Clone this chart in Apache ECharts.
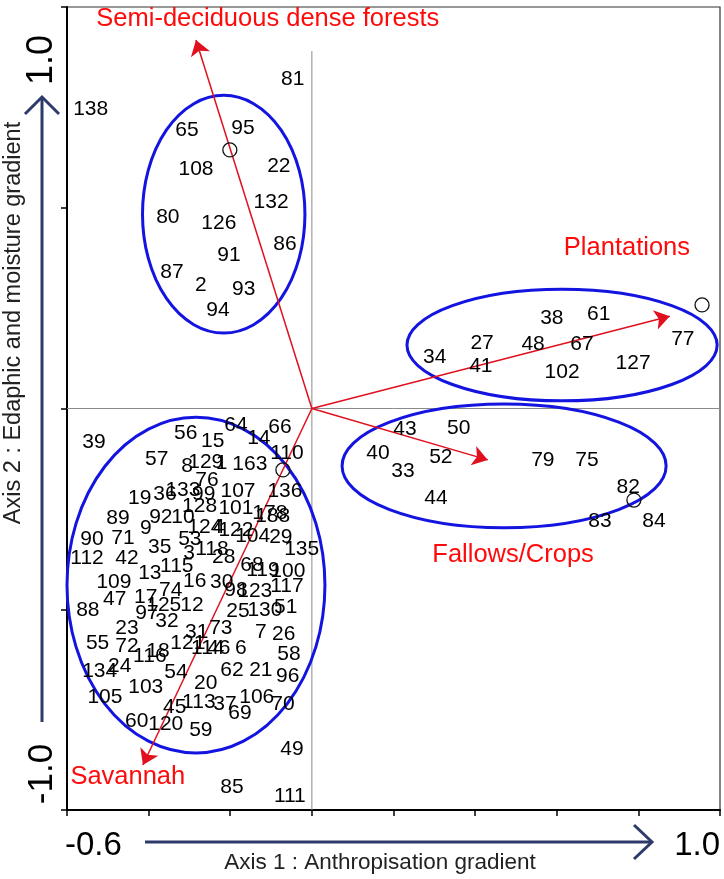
<!DOCTYPE html>
<html>
<head>
<meta charset="utf-8">
<script src="https://cdn.jsdelivr.net/npm/echarts@6/dist/echarts.min.js"></script>
<style>
html,body{margin:0;padding:0;background:#fff;}
#chart{width:724px;height:879px;}
</style>
</head>
<body>
<div id="chart"></div>
<script>
// ---- Data: site scores [site id, axis 1, axis 2] ----
const forestSites = [
  ['138',-0.542,0.746],['81',-0.047,0.821],['65',-0.306,0.694],['95',-0.169,0.698],
  ['108',-0.284,0.596],['22',-0.081,0.603],['132',-0.100,0.514],['80',-0.353,0.477],
  ['126',-0.228,0.462],['86',-0.066,0.410],['91',-0.203,0.382],['87',-0.343,0.340],
  ['2',-0.272,0.308],['93',-0.167,0.298],['94',-0.230,0.245]
];
const plantationSites = [
  ['38',0.588,0.225],['61',0.703,0.235],['27',0.417,0.163],['48',0.542,0.161],
  ['67',0.662,0.161],['77',0.909,0.173],['34',0.301,0.128],['41',0.414,0.106],
  ['102',0.613,0.091],['127',0.787,0.113]
];
const fallowSites = [
  ['43',0.228,-0.051],['50',0.360,-0.049],['40',0.162,-0.111],['52',0.316,-0.121],
  ['33',0.223,-0.156],['79',0.566,-0.128],['75',0.674,-0.128],['44',0.304,-0.223],
  ['82',0.775,-0.196],['83',0.706,-0.280],['84',0.838,-0.280]
];
const savannahSites = [
  ['39',-0.534,-0.083],['56',-0.309,-0.061],['64',-0.186,-0.041],['15',-0.243,-0.081],
  ['14',-0.130,-0.073],['66',-0.078,-0.046],['110',-0.061,-0.111],['57',-0.380,-0.126],
  ['8',-0.306,-0.143],['129',-0.260,-0.133],['1',-0.221,-0.136],['163',-0.152,-0.138],
  ['76',-0.257,-0.178],['107',-0.181,-0.205],['136',-0.066,-0.205],['19',-0.422,-0.223],
  ['36',-0.360,-0.213],['133',-0.316,-0.203],['99',-0.265,-0.213],['128',-0.275,-0.243],
  ['101',-0.186,-0.248],['178',-0.103,-0.260],['188',-0.096,-0.268],['89',-0.475,-0.273],
  ['9',-0.407,-0.298],['92',-0.370,-0.270],['10',-0.316,-0.270],['124',-0.262,-0.295],
  ['4',-0.228,-0.295],['122',-0.186,-0.304],['104',-0.145,-0.318],['29',-0.076,-0.320],
  ['135',-0.025,-0.350],['90',-0.539,-0.325],['71',-0.463,-0.323],['35',-0.373,-0.345],
  ['53',-0.299,-0.325],['112',-0.551,-0.372],['42',-0.453,-0.372],['3',-0.301,-0.361],
  ['118',-0.245,-0.350],['28',-0.216,-0.370],['13',-0.397,-0.410],['115',-0.331,-0.392],
  ['109',-0.485,-0.432],['16',-0.287,-0.430],['30',-0.221,-0.432],['68',-0.147,-0.390],
  ['119',-0.120,-0.402],['100',-0.059,-0.405],['117',-0.061,-0.442],['98',-0.186,-0.452],
  ['123',-0.140,-0.455],['47',-0.483,-0.475],['17',-0.407,-0.469],['74',-0.346,-0.452],
  ['125',-0.363,-0.489],['12',-0.294,-0.489],['88',-0.549,-0.502],['97',-0.404,-0.509],
  ['32',-0.355,-0.529],['23',-0.453,-0.547],['31',-0.282,-0.557],['73',-0.223,-0.547],
  ['25',-0.181,-0.504],['130',-0.115,-0.502],['51',-0.064,-0.494],['7',-0.125,-0.557],
  ['26',-0.069,-0.562],['55',-0.525,-0.584],['72',-0.453,-0.592],['116',-0.397,-0.616],
  ['18',-0.377,-0.604],['121',-0.304,-0.584],['114',-0.255,-0.597],['46',-0.228,-0.597],
  ['6',-0.174,-0.597],['58',-0.056,-0.611],['24',-0.471,-0.641],['134',-0.520,-0.654],
  ['54',-0.333,-0.656],['62',-0.196,-0.651],['21',-0.125,-0.651],['96',-0.059,-0.666],
  ['20',-0.260,-0.684],['103',-0.407,-0.694],['105',-0.507,-0.719],['113',-0.277,-0.731],
  ['37',-0.213,-0.736],['106',-0.135,-0.719],['70',-0.071,-0.736],['45',-0.336,-0.743],
  ['69',-0.176,-0.758],['60',-0.429,-0.778],['120',-0.358,-0.786],['59',-0.272,-0.801],
  ['49',-0.049,-0.848],['85',-0.196,-0.943],['111',-0.054,-0.965]
];
// Land-use variables (arrow tips)
const variableNames = ['Semi-deciduous dense forests','Plantations','Fallows/Crops','Savannah'];
const variableAxis1 = [-0.284, 0.877, 0.431, -0.414];
const variableAxis2 = [0.918, 0.230, -0.128, -0.888];
// Group centroids (open circles)
const centroidAxis1 = [-0.201, 0.956, -0.071, 0.789];
const centroidAxis2 = [0.644, 0.258, -0.153, -0.228];
// Group ellipses: centre axis1, centre axis2, half-width, half-height
const groupEllipses = [
  [-0.216, 0.484, 0.199, 0.296],
  [0.613, 0.158, 0.380, 0.139],
  [0.471, -0.143, 0.397, 0.154],
  [-0.284, -0.440, 0.316, 0.418]
];
// Variable label anchor positions
const variableLabelAxis1 = [-0.108, 0.772, 0.493, -0.451];
const variableLabelAxis2 = [0.969, 0.401, -0.364, -0.917];
const xTicks = {min: -0.6, max: 1.0, interval: 0.2};
const yTicks = {min: -1.0, max: 1.0, interval: 0.5};

const FONT = 'Liberation Sans, Arial, sans-serif';
const NAVY = '#2E3A6A';
const RED = '#E0101F';
const BLUE = '#1414E0';

const allSites = [].concat(forestSites, plantationSites, fallowSites, savannahSites);

const chart = echarts.init(document.getElementById('chart'), null, {renderer: 'canvas'});

const option = {
  animation: false,
  backgroundColor: '#fff',
  grid: {left: 67, right: 4, top: 7, bottom: 69, show: true, borderColor: '#333', borderWidth: 1.2, backgroundColor: 'transparent'},
  xAxis: {
    type: 'value', min: xTicks.min, max: xTicks.max, interval: xTicks.interval,
    axisLine: {show: true, onZero: false, lineStyle: {color: '#000', width: 2}},
    axisTick: {show: true, inside: false, length: 6, lineStyle: {color: '#000', width: 1.5}},
    axisLabel: {show: false}, splitLine: {show: false}
  },
  yAxis: {
    type: 'value', min: yTicks.min, max: yTicks.max, interval: yTicks.interval,
    axisLine: {show: true, onZero: false, lineStyle: {color: '#000', width: 2}},
    axisTick: {show: true, inside: false, length: 6, lineStyle: {color: '#000', width: 1.5}},
    axisLabel: {show: false}, splitLine: {show: false}
  },
  series: [
    {
      type: 'line', silent: true, symbol: 'none', z: 1,
      data: [[0, yTicks.min], [0, 0.89]],
      lineStyle: {color: '#8a8a8a', width: 1}
    },
    {
      type: 'line', silent: true, symbol: 'none', z: 1,
      data: [[xTicks.min, 0], [xTicks.max, 0]],
      lineStyle: {color: '#8a8a8a', width: 1}
    },
    {
      type: 'custom', silent: true, z: 2,
      data: groupEllipses,
      renderItem: function (params, api) {
        const c = api.coord([api.value(0), api.value(1)]);
        const s = api.size([api.value(2), api.value(3)]);
        const rx = s[0], ry = s[1];
        const d = 'M ' + (c[0] - rx) + ' ' + c[1] +
          ' A ' + rx + ' ' + ry + ' 0 1 0 ' + (c[0] + rx) + ' ' + c[1] +
          ' A ' + rx + ' ' + ry + ' 0 1 0 ' + (c[0] - rx) + ' ' + c[1] + ' Z';
        return {type: 'path', shape: {pathData: d}, style: {fill: 'none', stroke: BLUE, lineWidth: 3}};
      }
    },
    {
      type: 'lines', coordinateSystem: 'cartesian2d', silent: true, z: 3,
      symbol: ['none', 'arrow'], symbolSize: [11, 15],
      lineStyle: {color: RED, width: 1.5, opacity: 1},
      data: variableNames.map(function (n, i) {
        return {name: n, coords: [[0, 0], [variableAxis1[i], variableAxis2[i]]]};
      })
    },
    {
      type: 'scatter', silent: true, z: 4, symbolSize: 0,
      itemStyle: {opacity: 1},
      data: allSites.map(function (s) { return {name: s[0], value: [s[1], s[2]]}; }),
      label: {show: true, position: 'inside', formatter: '{b}', color: '#000', opacity: 1, fontSize: 21, fontFamily: FONT},
      labelLayout: {hideOverlap: false}
    },
    {
      type: 'scatter', silent: true, z: 5, symbol: 'circle', symbolSize: 14,
      itemStyle: {color: 'rgba(255,255,255,0)', borderColor: '#111', borderWidth: 1.3, opacity: 1},
      data: centroidAxis1.map(function (x, i) { return [x, centroidAxis2[i]]; })
    },
    {
      type: 'scatter', silent: true, z: 6, symbolSize: 0,
      itemStyle: {opacity: 1},
      data: variableNames.map(function (n, i) { return {name: n, value: [variableLabelAxis1[i], variableLabelAxis2[i]]}; }),
      label: {show: true, position: 'inside', formatter: '{b}', color: '#FF0A0A', opacity: 1, fontSize: 25.5, fontFamily: FONT}
    }
  ],
  graphic: [
    // bottom axis annotation
    {type: 'text', left: 65, top: 829, style: {text: '-0.6', font: '33px ' + FONT, fill: '#000'}},
    {type: 'text', right: 4, top: 829, style: {text: '1.0', font: '33px ' + FONT, fill: '#000'}},
    {type: 'line', shape: {x1: 145, y1: 842, x2: 651, y2: 842}, style: {stroke: NAVY, lineWidth: 3}},
    {type: 'polyline', shape: {points: [[634, 825], [652, 842], [634, 859]]}, style: {stroke: NAVY, lineWidth: 3, fill: 'none'}},
    {type: 'text', x: 380, y: 863, style: {text: 'Axis 1 : Anthropisation gradient', font: '22.5px ' + FONT, fill: '#222', align: 'center', verticalAlign: 'middle'}},
    // left axis annotation
    {type: 'line', shape: {x1: 42, y1: 722, x2: 42, y2: 97}, style: {stroke: NAVY, lineWidth: 3}},
    {type: 'polyline', shape: {points: [[25, 114], [42, 97], [59, 114]]}, style: {stroke: NAVY, lineWidth: 3, fill: 'none'}},
    {type: 'text', x: 42, y: 60, rotation: Math.PI / 2, style: {text: '1.0', font: '36px ' + FONT, fill: '#000', align: 'center', verticalAlign: 'middle'}},
    {type: 'text', x: 42, y: 774, rotation: Math.PI / 2, style: {text: '-1.0', font: '35px ' + FONT, fill: '#000', align: 'center', verticalAlign: 'middle'}},
    {type: 'text', x: 14, y: 323, rotation: Math.PI / 2, style: {text: 'Axis 2 : Edaphic and moisture gradient', font: '23.5px ' + FONT, fill: '#222', align: 'center', verticalAlign: 'middle'}}
  ]
};
chart.setOption(option);
</script>
</body>
</html>
